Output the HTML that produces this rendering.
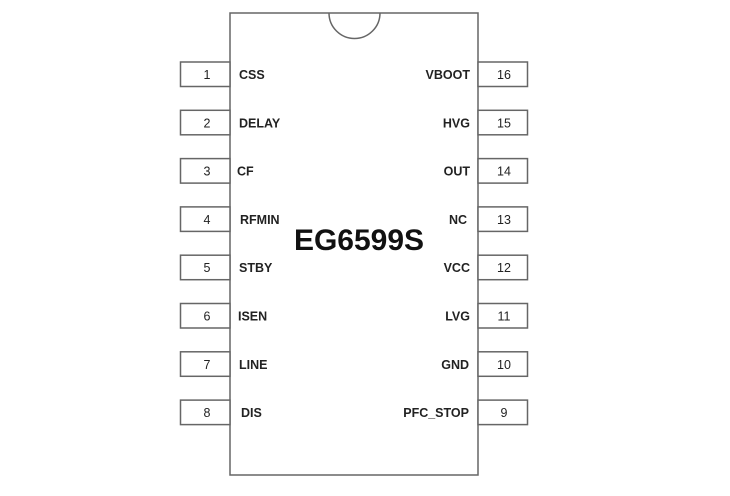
<!DOCTYPE html>
<html><head><meta charset="utf-8"><style>html,body{margin:0;padding:0;background:#fff;}svg{display:block}</style></head>
<body>
<svg width="730" height="496" viewBox="0 0 730 496" xmlns="http://www.w3.org/2000/svg" font-family="Liberation Sans, Arial, sans-serif">
<g fill="#fff" stroke="#666" stroke-width="1.5">
<rect x="230" y="13" width="248" height="462"/>
<path d="M329 13 A25.5 25.5 0 0 0 380 13" fill="none"/>
<rect x="180.5" y="62" width="49.5" height="24.5"/>
<rect x="180.5" y="110.3" width="49.5" height="24.5"/>
<rect x="180.5" y="158.6" width="49.5" height="24.5"/>
<rect x="180.5" y="206.9" width="49.5" height="24.5"/>
<rect x="180.5" y="255.2" width="49.5" height="24.5"/>
<rect x="180.5" y="303.5" width="49.5" height="24.5"/>
<rect x="180.5" y="351.8" width="49.5" height="24.5"/>
<rect x="180.5" y="400.1" width="49.5" height="24.5"/>
<rect x="478" y="62" width="49.5" height="24.5"/>
<rect x="478" y="110.3" width="49.5" height="24.5"/>
<rect x="478" y="158.6" width="49.5" height="24.5"/>
<rect x="478" y="206.9" width="49.5" height="24.5"/>
<rect x="478" y="255.2" width="49.5" height="24.5"/>
<rect x="478" y="303.5" width="49.5" height="24.5"/>
<rect x="478" y="351.8" width="49.5" height="24.5"/>
<rect x="478" y="400.1" width="49.5" height="24.5"/>
</g>
<g font-size="12.5" fill="#222" text-anchor="middle">
<text x="207" y="79">1</text><text x="207" y="127.3">2</text><text x="207" y="175.6">3</text><text x="207" y="223.9">4</text>
<text x="207" y="272.2">5</text><text x="207" y="320.5">6</text><text x="207" y="368.8">7</text><text x="207" y="417.1">8</text>
<text x="504" y="79">16</text><text x="504" y="127.3">15</text><text x="504" y="175.6">14</text><text x="504" y="223.9">13</text>
<text x="504" y="272.2">12</text><text x="504" y="320.5">11</text><text x="504" y="368.8">10</text><text x="504" y="417.1">9</text>
</g>
<g font-size="12.5" font-weight="bold" fill="#222">
<text x="239" y="79">CSS</text><text x="239" y="127.3">DELAY</text><text x="237" y="175.6">CF</text><text x="240" y="223.9">RFMIN</text>
<text x="239" y="272.2">STBY</text><text x="238" y="320.5">ISEN</text><text x="239" y="368.8">LINE</text><text x="241" y="417.1">DIS</text>
</g>
<g font-size="12.5" font-weight="bold" fill="#222" text-anchor="end">
<text x="470" y="79">VBOOT</text><text x="470" y="127.3">HVG</text><text x="470" y="175.6">OUT</text><text x="467" y="223.9">NC</text>
<text x="470" y="272.2">VCC</text><text x="470" y="320.5">LVG</text><text x="469" y="368.8">GND</text><text x="469" y="417.1">PFC_STOP</text>
</g>
<text x="359" y="250" font-size="30" font-weight="bold" fill="#111" text-anchor="middle">EG6599S</text>
</svg>
</body></html>
